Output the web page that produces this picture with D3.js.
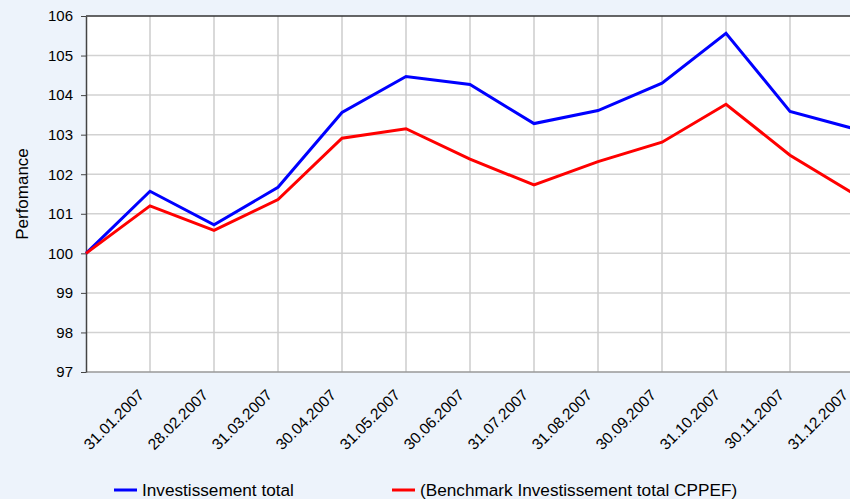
<!DOCTYPE html>
<html>
<head>
<meta charset="utf-8">
<script src="https://cdn.jsdelivr.net/npm/d3@7"></script>
<style>
  body { margin: 0; background: #edf3fb; }
  svg { display: block; font-family: "Liberation Sans", Arial, sans-serif; }
</style>
</head>
<body>
<svg id="chart" width="850" height="499"></svg>
<script>
// first category is the unlabeled start point (base 100)
const dates = ['', '31.01.2007', '28.02.2007', '31.03.2007', '30.04.2007', '31.05.2007', '30.06.2007',
  '31.07.2007', '31.08.2007', '30.09.2007', '31.10.2007', '30.11.2007', '31.12.2007'];
const investTotal = [100, 101.57, 100.72, 101.67, 103.56, 104.47, 104.27, 103.28, 103.61, 104.30, 105.56, 103.59, 103.15];
const benchmark = [100, 101.20, 100.58, 101.36, 102.91, 103.15, 102.38, 101.73, 102.32, 102.81, 103.77, 102.48, 101.50];
const yTicks = [97, 98, 99, 100, 101, 102, 103, 104, 105, 106];
const seriesNames = ['Investissement total', '(Benchmark Investissement total CPPEF)'];
const seriesColors = ['#0000ff', '#ff0000'];

const svg = d3.select('#chart');
const plot = { left: 86, right: 854, top: 16, bottom: 372 };

const x = d3.scalePoint().domain(d3.range(dates.length)).range([plot.left, plot.right]);
const y = d3.scaleLinear().domain([97, 106]).range([plot.bottom, plot.top]);

// plot background
svg.append('rect')
  .attr('x', plot.left).attr('y', plot.top)
  .attr('width', plot.right - plot.left).attr('height', plot.bottom - plot.top)
  .attr('fill', '#fff');

// grid
svg.append('g')
  .selectAll('line')
  .data(yTicks.slice(1, -1))
  .enter().append('line')
  .attr('x1', plot.left).attr('x2', plot.right)
  .attr('y1', d => y(d)).attr('y2', d => y(d))
  .attr('stroke', '#d2d2d2').attr('stroke-width', 1.5);

svg.append('g')
  .selectAll('line')
  .data(d3.range(1, dates.length))
  .enter().append('line')
  .attr('x1', d => x(d)).attr('x2', d => x(d))
  .attr('y1', plot.top).attr('y2', plot.bottom)
  .attr('stroke', '#cccccc').attr('stroke-width', 1.5);

// top border
svg.append('line')
  .attr('x1', plot.left).attr('x2', plot.right).attr('y1', plot.top).attr('y2', plot.top)
  .attr('stroke', '#333').attr('stroke-width', 1.5);

// bottom axis
svg.append('line')
  .attr('x1', plot.left).attr('x2', plot.right).attr('y1', plot.bottom).attr('y2', plot.bottom)
  .attr('stroke', '#999').attr('stroke-width', 1.5);

// y axis
const yAxis = svg.append('g')
  .attr('transform', `translate(${plot.left},0)`)
  .call(d3.axisLeft(y).tickValues(yTicks).tickSize(5).tickPadding(8).tickSizeOuter(0));
yAxis.select('.domain').attr('stroke', '#444').attr('stroke-width', 1.5);
yAxis.selectAll('.tick line').attr('stroke', '#444');
yAxis.selectAll('.tick text')
  .attr('fill', '#000')
  .style('font-size', '15px')
  .style('font-family', '"Liberation Sans", Arial, sans-serif');

svg.append('text')
  .attr('transform', `translate(28,${(plot.top + plot.bottom) / 2}) rotate(-90)`)
  .attr('text-anchor', 'middle')
  .style('font-size', '17px')
  .text('Perfomance');

// x labels, rotated
svg.append('g')
  .selectAll('text')
  .data(d3.range(1, dates.length))
  .enter().append('text')
  .attr('transform', d => `translate(${x(d) - 5},${plot.bottom + 24}) rotate(-45)`)
  .attr('text-anchor', 'end')
  .style('font-size', '15.5px')
  .text(d => dates[d]);

// lines
[investTotal, benchmark].forEach((vals, i) => {
  const line = d3.line()
    .x((d, j) => x(j))
    .y(d => y(d));
  svg.append('path')
    .datum(vals)
    .attr('fill', 'none')
    .attr('stroke', seriesColors[i])
    .attr('stroke-width', 3)
    .attr('d', line);
});

// legend
const legendX = [114, 392];
const legend = svg.selectAll('.legend')
  .data(seriesNames)
  .enter().append('g')
  .attr('class', 'legend')
  .attr('transform', (d, i) => `translate(${legendX[i]},490)`);

legend.append('line')
  .attr('x1', 0).attr('x2', 23)
  .attr('stroke', (d, i) => seriesColors[i])
  .attr('stroke-width', 3);

legend.append('text')
  .attr('x', 28)
  .attr('y', 5.5)
  .style('font-size', '17.2px')
  .text(d => d);
</script>
</body>
</html>
